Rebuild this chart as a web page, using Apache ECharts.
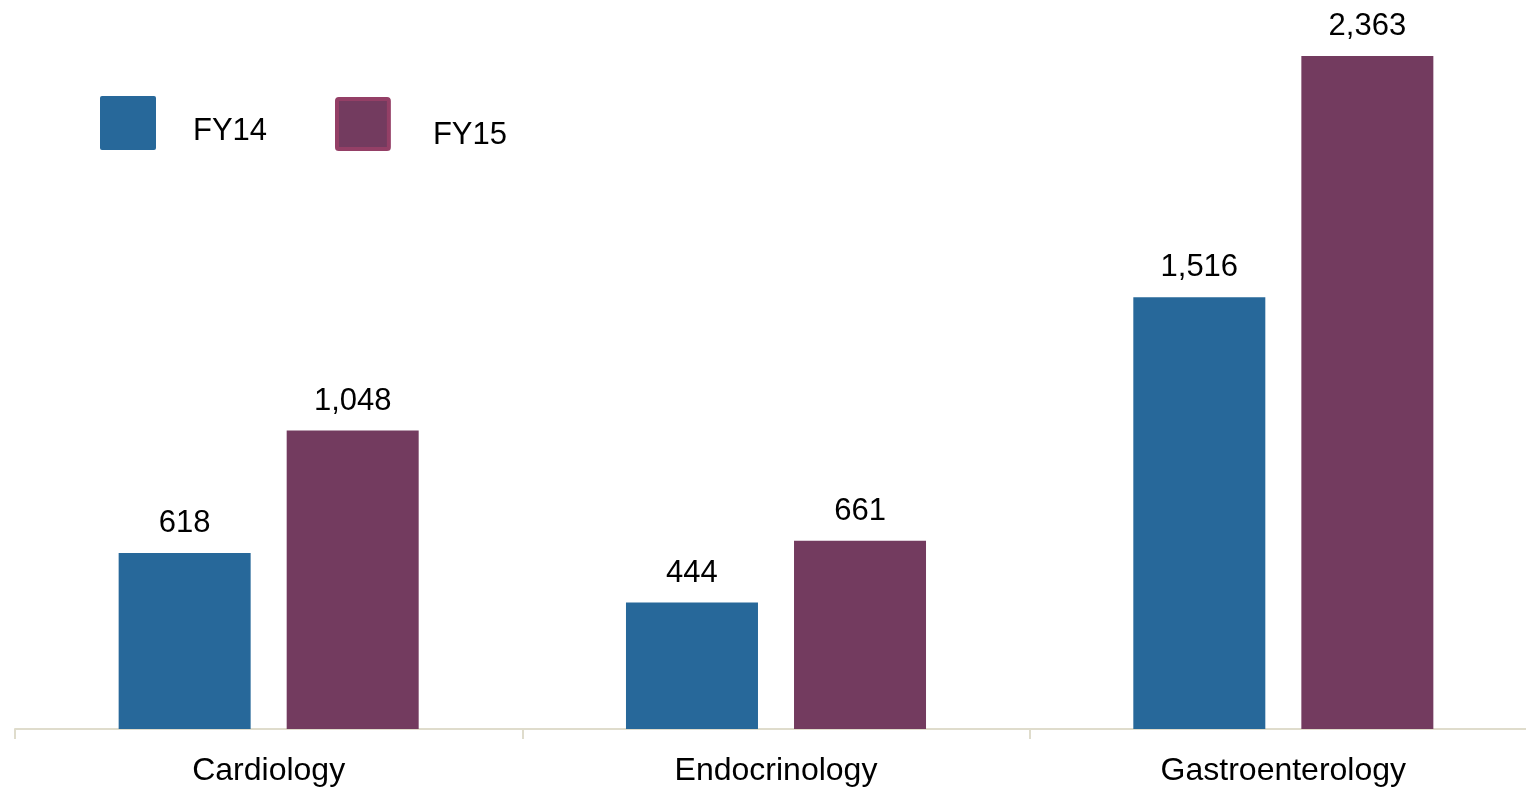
<!DOCTYPE html>
<html>
<head>
<meta charset="utf-8">
<script src="https://cdn.jsdelivr.net/npm/echarts@6/dist/echarts.min.js"></script>
<style>
html,body{margin:0;padding:0;background:#fff;}
#c{width:1526px;height:788px;}
</style>
</head>
<body>
<div id="c"></div>
<script>
const categories = ['Cardiology', 'Endocrinology', 'Gastroenterology'];
const fy14 = [618, 444, 1516];
const fy15 = [1048, 661, 2363];
const seriesNames = ['FY14', 'FY15'];

const FONT = 'Liberation Sans, Arial, sans-serif';
const ICON = 'path://M2,0H54Q56,0 56,2V52Q56,54 54,54H2Q0,54 0,52V2Q0,0 2,0Z';
const chart = echarts.init(document.getElementById('c'));
const labelStyle = {
  show: true, position: 'top', distance: 14,
  color: '#000', fontSize: 31, fontFamily: FONT,
  formatter: p => p.value.toLocaleString('en-US')
};
chart.setOption({
  animation: false,
  grid: { left: 15, width: 1522, top: 0, bottom: 59, containLabel: false, outerBoundsMode: 'none' },
  legend: [
    {
      data: [seriesNames[0]], left: 95, top: 91, icon: ICON,
      itemWidth: 56, itemHeight: 54,
      formatter: '{a|{name}}',
      textStyle: { fontSize: 31, fontFamily: FONT, color: '#000',
        rich: { a: { fontSize: 31, fontFamily: FONT, color: '#000', padding: [16, 0, 0, 32] } } }
    },
    {
      data: [seriesNames[1]], left: 330, top: 92, icon: ICON,
      itemWidth: 52, itemHeight: 50,
      itemStyle: { borderColor: '#943f66', borderWidth: 4 },
      formatter: '{a|{name}}',
      textStyle: { fontSize: 31, fontFamily: FONT, color: '#000',
        rich: { a: { fontSize: 31, fontFamily: FONT, color: '#000', padding: [23, 0, 0, 39] } } }
    }
  ],
  xAxis: {
    type: 'category', data: categories,
    axisLine: { lineStyle: { color: '#dfdccc', width: 2 } },
    axisTick: { show: true, length: 10, lineStyle: { color: '#dfdccc', width: 2 } },
    axisLabel: { color: '#000', fontSize: 32, fontFamily: FONT, margin: 26 }
  },
  yAxis: { type: 'value', min: 0, max: 2560, show: false, splitLine: { show: false } },
  series: [
    { name: seriesNames[0], type: 'bar', data: fy14, barWidth: 132, barGap: '27.3%',
      itemStyle: { color: '#27689a' }, label: labelStyle },
    { name: seriesNames[1], type: 'bar', data: fy15, barWidth: 132,
      itemStyle: { color: '#733b5f' }, label: labelStyle }
  ]
});
</script>
</body>
</html>
